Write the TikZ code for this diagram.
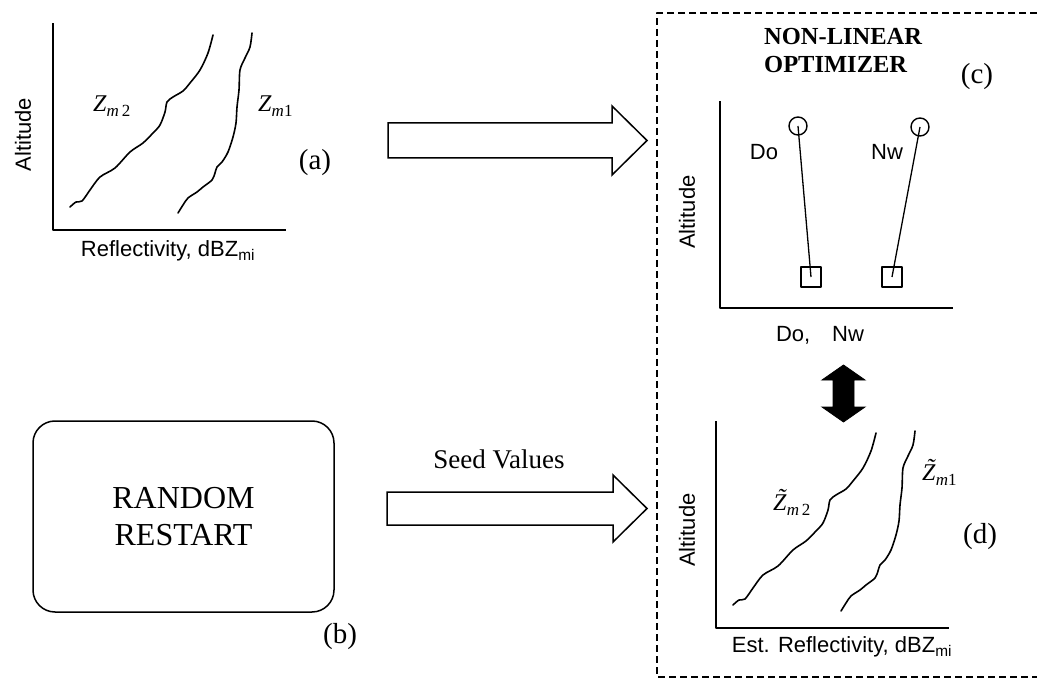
\documentclass[tikz,border=0pt]{standalone}
\usepackage{fontspec}
\setmainfont{Liberation Serif}
\newfontfamily\axisfont{Liberation Sans}
\usetikzlibrary{arrows.meta, calc}

% subscript of the Z labels, set a little larger than \textsubscript
\newcommand{\zsub}[1]{\raisebox{-5pt}{\fontsize{17}{20}\selectfont #1}}
% Z with a tilde on top (spacing tilde used as an accent)
\newcommand{\ztilde}{\textit{\accent"02DC Z}}

\tikzset{
    axisline/.style={line width=1.7pt, line cap=rect},
    zcurve/.style={line width=1.6pt, line join=round, line cap=round},
    hollowarrow/.style={line width=1.5pt, line join=miter, fill=white},
    solidarrow/.style={fill=black, draw=black, line width=0.8pt, line join=miter},
    frame/.style={line width=1.2pt, dash pattern=on 7pt off 4pt},
    axislabel/.style={font=\axisfont\fontsize{22}{26}\selectfont, inner sep=0pt},
    panellabel/.style={font=\fontsize{29}{34}\selectfont, inner sep=0pt},
    zlabel/.style={font=\fontsize{24}{28}\selectfont, inner sep=0pt, anchor=base west},
    markcircle/.style={circle, draw, line width=1.4pt, minimum size=18pt, inner sep=0pt},
    marksquare/.style={rectangle, draw, line width=1.4pt, minimum size=20pt, inner sep=0pt},
    % axes of one small plot, origin at the corner
    axes/.pic={
        \draw[axisline] (0,-206) -- (0,0) -- (232,0);
    },
    % the two reflectivity profiles, origin at the axes corner
    zcurves/.pic={
        \draw[zcurve] plot[smooth, tension=0.5] coordinates {
            (17,-23) (23,-28) (29,-29) (37,-40) (47,-53) (62,-62) (77,-78)
            (90,-87) (100,-97) (107,-105) (112,-118) (114,-128) (120,-133)
            (130,-139) (137,-147) (147,-160) (155,-177) (160,-195)};
        \draw[zcurve] plot[smooth, tension=0.5] coordinates {
            (125,-17) (130,-25) (135,-32) (144,-38) (150,-43) (159,-50)
            (162,-57) (164,-63) (169,-68) (175,-78) (180,-93) (183,-107)
            (184,-123) (186,-140) (187,-160) (192,-172) (197,-183) (199,-197)};
    }
}

\begin{document}
\begin{tikzpicture}[x=1pt, y=-1pt, >=Stealth, line join=round]
    \useasboundingbox (0,0) rectangle (1037,679);

    % --- PANEL (a): measured profiles ---
    \coordinate (cornerA) at (53,230);
    \pic at (cornerA) {axes};
    \pic at (cornerA) {zcurves};
    \node[axislabel, rotate=90] (altA) at (23,134.5) {Altitude};
    \node[axislabel] (reflA) at (168,251) {Reflectivity, dBZ\textsubscript{mi}};
    \node[zlabel] (zmTwoA) at (93,112) {\textit{Z}\zsub{\textit{m}\,2}};
    \node[zlabel] (zmOneA) at (258,112) {\textit{Z}\zsub{\textit{m}1}};
    \node[panellabel] (labA) at (315,163) {(a)};

    % --- PANEL (b): random restart ---
    \node[draw, line width=1.5pt, rounded corners=22pt, minimum width=301pt,
          minimum height=191pt, align=center,
          font=\fontsize{32}{37}\selectfont] (restart) at (183.5,516.5)
          {RANDOM\\RESTART};
    \node[panellabel] (labB) at (340,637) {(b)};

    % --- BLOCK ARROWS ---
    \coordinate (fitStart) at (388,140.5);
    \begin{scope}[shift={(fitStart)}]
        \draw[hollowarrow] (0,-17.5) -- (224,-17.5) -- (224,-34.5) -- (259,0)
            -- (224,34.5) -- (224,17.5) -- (0,17.5) -- cycle;
    \end{scope}
    \coordinate (seedStart) at (387,508.5);
    \begin{scope}[shift={(seedStart)}]
        \draw[hollowarrow] (0,-16.5) -- (226,-16.5) -- (226,-33.5) -- (260,0)
            -- (226,33.5) -- (226,16.5) -- (0,16.5) -- cycle;
    \end{scope}
    \node[font=\fontsize{27}{32}\selectfont, inner sep=0pt] (seedLbl) at (499,459) {Seed Values};

    % --- DASHED OPTIMIZER FRAME ---
    \draw[frame] (1037,13) -- (657,13) -- (657,677) -- (1037,677);
    \node[anchor=west, align=left, inner sep=0pt,
          font=\bfseries\fontsize{24.5}{28}\selectfont] (optTitle) at (764,51)
          {NON-LINEAR\\OPTIMIZER};
    \node[panellabel] (labC) at (977,77) {(c)};

    % --- PANEL (c): Do and Nw profiles ---
    \coordinate (cornerC) at (720,308);
    \pic at (cornerC) {axes};
    \node[markcircle] (doTop) at (798,126) {};
    \node[marksquare] (doBot) at (811,277) {};
    \node[markcircle] (nwTop) at (920,127) {};
    \node[marksquare] (nwBot) at (892,277) {};
    \draw[line width=1.3pt] (doTop.center) -- (doBot.center);
    \draw[line width=1.3pt] (nwTop.center) -- (nwBot.center);
    \node[axislabel] (doLbl) at (764,152) {Do};
    \node[axislabel] (nwLbl) at (887,152) {Nw};
    \node[axislabel, rotate=90] (altC) at (687,212) {Altitude};
    \node[axislabel] (dsdC) at (820,335) {Do,\quad Nw};

    % --- DOUBLE ARROW between (c) and (d) ---
    \draw[solidarrow] (843.5,365) -- (865,380) -- (854,380) -- (854,407) -- (865,407)
        -- (843.5,422) -- (822,407) -- (833,407) -- (833,380) -- (822,380) -- cycle;

    % --- PANEL (d): estimated profiles ---
    \coordinate (cornerD) at (716,628);
    \pic at (cornerD) {axes};
    \pic at (cornerD) {zcurves};
    \node[axislabel, rotate=90] (altD) at (687,530) {Altitude};
    \node[axislabel] (reflD) at (842,647) {Est. Reflectivity, dBZ\textsubscript{mi}};
    \node[zlabel] (zmTwoD) at (773,510) {\ztilde\zsub{\textit{m}\,2}};
    \node[zlabel] (zmOneD) at (922,480) {\ztilde\zsub{\textit{m}1}};
    \node[panellabel] (labD) at (980,537) {(d)};

\end{tikzpicture}
\end{document}
